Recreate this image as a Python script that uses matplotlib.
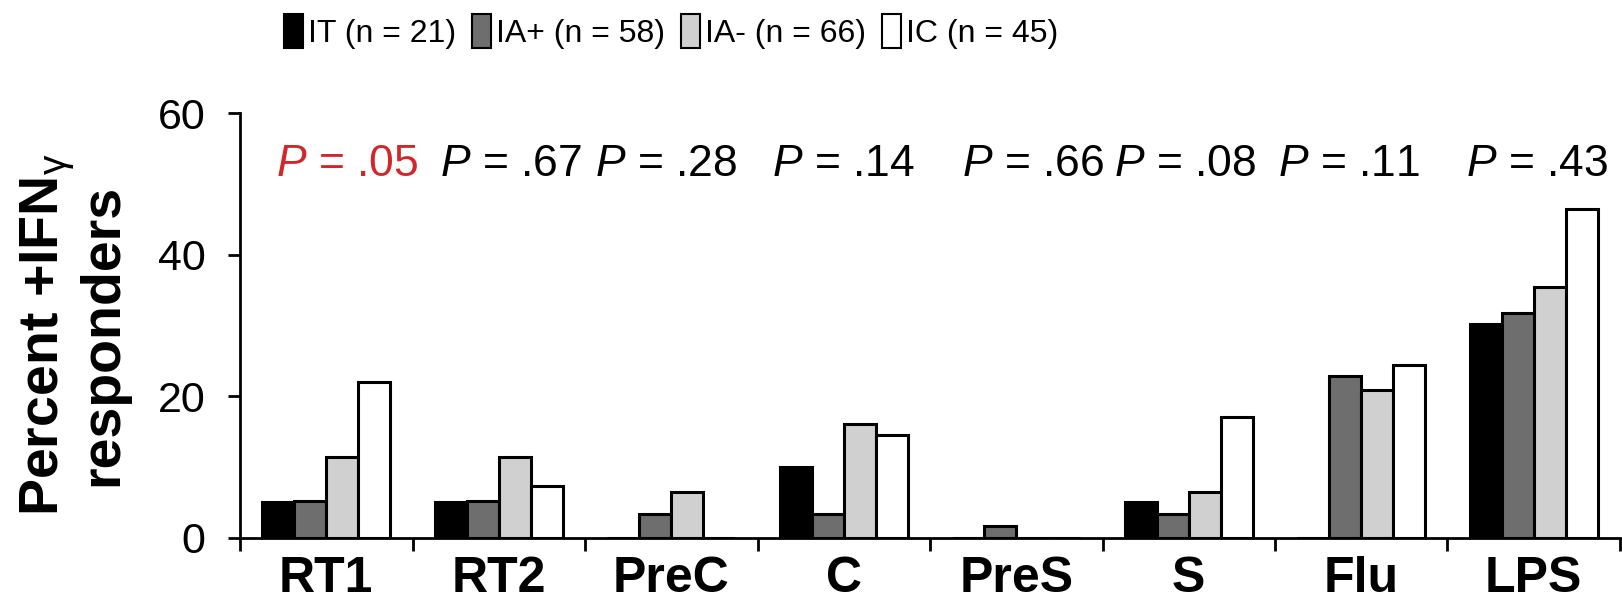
import matplotlib
matplotlib.use('Agg')
import matplotlib.pyplot as plt
import numpy as np
from matplotlib.patches import Patch

plt.rcParams['font.family'] = ['Liberation Sans', 'DejaVu Sans']
plt.rcParams['mathtext.fontset'] = 'custom'
plt.rcParams['mathtext.rm'] = 'Liberation Sans'
plt.rcParams['mathtext.it'] = 'Liberation Sans:italic'
plt.rcParams['mathtext.bf'] = 'Liberation Sans:bold'

# --- data -------------------------------------------------------------
categories = ["RT1", "RT2", "PreC", "C", "PreS", "S", "Flu", "LPS"]
group_labels = ["IT (n = 21)", "IA+ (n = 58)", "IA- (n = 66)", "IC (n = 45)"]
it_vals = [5.0, 5.0, 0, 10.0, 0, 5.0, 0, 30.2]
ia_plus_vals = [5.2, 5.2, 3.4, 3.4, 1.7, 3.4, 22.8, 31.7]
ia_minus_vals = [11.4, 11.4, 6.4, 16.1, 0, 6.4, 20.9, 35.5]
ic_vals = [22.0, 7.3, 0, 14.5, 0, 17.0, 24.4, 46.4]
p_values = [".05", ".67", ".28", ".14", ".66", ".08", ".11", ".43"]
p_colors = ["#d3262b", "black", "black", "black", "black", "black", "black", "black"]
p_offsets = [0.12, 0.07, -0.03, 0.0, 0.1, -0.02, -0.07, 0.02]

series = [it_vals, ia_plus_vals, ia_minus_vals, ic_vals]
fills = ["#000000", "#6e6e6e", "#d0d0d0", "#ffffff"]

fig = plt.figure(figsize=(16.22, 5.99), dpi=100)
ax = fig.add_axes([240 / 1622, 61.3 / 599, 1380 / 1622, 424.4 / 599])

x = np.arange(len(categories))
w = 0.186
for k, (vals, col) in enumerate(zip(series, fills)):
    ax.bar(x + (k - 1.5) * w, vals, width=w, color=col, edgecolor="black",
           linewidth=2.2, zorder=3)

ax.set_xlim(-0.5, len(categories) - 0.5)
ax.set_ylim(0, 60)
ax.set_yticks([0, 20, 40, 60])
ax.tick_params(axis='y', labelsize=31, width=2, length=9, pad=16, direction='out')

# boundary ticks (major, no labels), category names (minor, no tick marks)
ax.set_xticks(np.arange(-0.5, len(categories), 1.0))
ax.set_xticklabels([])
ax.set_xticks(x, minor=True)
ax.set_xticklabels(categories, minor=True, fontsize=36, fontweight='bold')
ax.tick_params(axis='x', which='major', width=2, length=9, direction='out')
ax.tick_params(axis='x', which='minor', length=0, pad=13)

for side in ['top', 'right']:
    ax.spines[side].set_visible(False)
for side in ['left', 'bottom']:
    ax.spines[side].set_linewidth(2)
ax.spines['left'].set_zorder(4)
ax.spines['bottom'].set_zorder(4)

for i, (pv, pc, off) in enumerate(zip(p_values, p_colors, p_offsets)):
    ax.text(i + off, 52.7, "$P$ = " + pv, color=pc, fontsize=32,
            ha='center', va='center')

fig.text(74 / 1622, 1 - 335 / 599, "Percent +IFN$_{\\mathrm{\\gamma}}$\nresponders",
         rotation=90, ha='center', va='center', fontsize=40, fontweight='bold',
         multialignment='center', linespacing=1.0)

handles = [Patch(facecolor=c, edgecolor='black', linewidth=1.5) for c in fills]
fig.legend(handles, group_labels, loc='upper left', bbox_to_anchor=(284 / 1622, 1 - 14 / 599),
           ncol=4, frameon=False, fontsize=23, handlelength=0.6, handleheight=1.25,
           handletextpad=0.15, columnspacing=0.5, borderpad=0, borderaxespad=0)

fig.savefig("out.png", dpi=100)
